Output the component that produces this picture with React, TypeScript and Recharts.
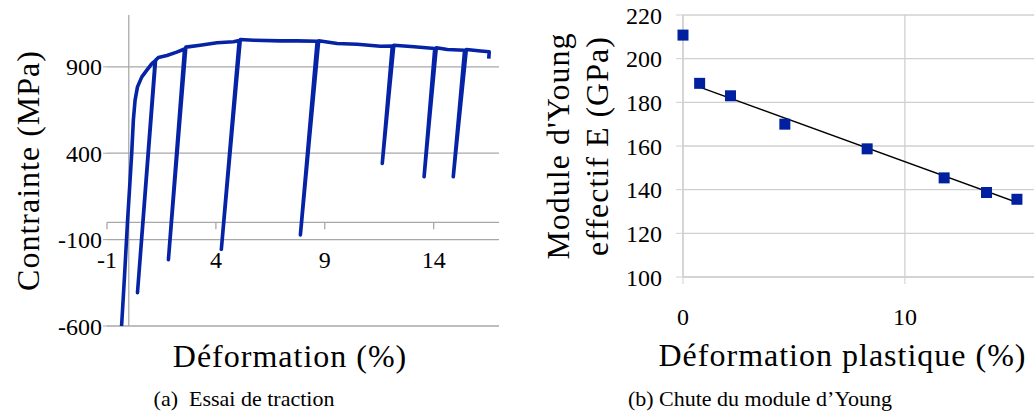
import React from 'react';
import {
  LineChart, Line, XAxis, YAxis, ReferenceLine, ReferenceDot, CartesianGrid,
  ComposedChart, Scatter,
} from 'recharts';

// ---------- (a) Essai de traction ----------
const strain = [
  -0.33, -0.2, -0.06, 0.06, 0.135, 0.21, 0.29, 0.4, 0.6, 0.83, 1.06, 1.21,
  0.4,
  1.23, 1.36, 1.75, 2.2, 2.56,
  1.82,
  2.62, 3.28, 4.05, 4.81, 5.07,
  4.25,
  5.12, 5.73, 6.96, 7.73, 8.65,
  7.88,
  8.72, 9.57, 10.49, 11.56, 12.1,
  11.64,
  12.17, 13.1, 14.05,
  13.56,
  14.12, 14.63, 15.42,
  14.9,
  15.5, 16.16, 16.55, 16.53,
];
const stress = [
  -600, -320, 0, 245, 400, 592, 707, 784, 842, 881, 919, 935,
  -407,
  938, 954, 966, 985, 1003,
  -216,
  1014, 1025, 1039, 1045, 1052,
  -156,
  1058, 1054, 1050, 1050, 1048,
  -73,
  1051, 1035, 1031, 1019, 1020,
  341,
  1025, 1016, 1006,
  264,
  1010, 1000, 996,
  264,
  1000, 992, 987, 948,
];
const leftXTicks = [-1, 4, 9, 14];
const leftYTicks = [-600, -100, 400, 900];

// ---------- (b) Chute du module d'Young ----------
const plasticStrain = [0, 0.75, 2.14, 4.59, 8.3, 11.77, 13.68, 15.05];
const youngModulus = [210.8, 188.7, 183, 170, 158.7, 145.4, 138.7, 135.6];
const trendStrain = [0.75, 15.1];
const trendModulus = [187, 134];
const rightXTicks = [0, 10];
const rightYTicks = [100, 120, 140, 160, 180, 200, 220];

const tractionData = strain.map((x, i) => ({ x, y: stress[i] }));
const youngData = plasticStrain.map((x, i) => ({ x, y: youngModulus[i] }));
const trendData = trendStrain.map((x, i) => ({ x, y: trendModulus[i] }));

const SERIF = "'Liberation Serif', 'Times New Roman', serif";
const BLUE = '#0623a6';
const MARK = '#0020a0';
const GRID_L = '#a8a8a8';
const GRID_R = '#d0d0d0';

const tickStyle = { fill: '#000', fontSize: 24, fontFamily: SERIF };
const titleStyle: React.CSSProperties = { fontFamily: SERIF, fontSize: 32, letterSpacing: 1 };

const VTitle = ({ viewBox, lines, xs }: any) => {
  const cy = viewBox.y + viewBox.height / 2;
  return (
    <g>
      {lines.map((t: string, i: number) => (
        <text key={i} x={xs[i]} y={cy} transform={`rotate(-90 ${xs[i]} ${cy})`}
          textAnchor="middle" dominantBaseline="central" fill="#000" style={titleStyle}>
          {t}
        </text>
      ))}
    </g>
  );
};

const HTitle = ({ viewBox, text, dx, dy }: any) => (
  <text x={viewBox.x + viewBox.width / 2 + dx} y={viewBox.y + dy} textAnchor="middle"
    fill="#000" style={titleStyle}>
    {text}
  </text>
);

const Square = (p: any) => (
  <rect x={p.cx - 5.5} y={p.cy - 5.5} width={11} height={11} fill={MARK} />
);

export default function App() {
  return (
    <div style={{ position: 'absolute', left: 0, top: 0, width: 1034, height: 420, overflow: 'hidden', background: '#fff' }}>
      <div style={{ position: 'absolute', left: 0, top: 0 }}>
        <LineChart width={520} height={380} data={tractionData}
          margin={{ top: 15, right: 21, left: 0, bottom: 0 }}>
          {leftYTicks.map((v) => (
            <ReferenceLine key={'g' + v} y={v} stroke={GRID_L} strokeWidth={1.3} zIndex={-100} />
          ))}
          <XAxis type="number" dataKey="x" domain={[-1, 17]} ticks={leftXTicks}
            tick={false} axisLine={false} tickLine={false} height={54}
            label={{ content: (p: any) => <HTitle {...p} text="Déformation (%)" dx={-13} dy={41} /> }} />
          <YAxis type="number" domain={[-600, 1200]} ticks={leftYTicks} width={107}
            axisLine={false} tickLine={{ stroke: GRID_L }} tickSize={4} tickMargin={1}
            tick={tickStyle}
            label={{ content: (p: any) => <VTitle {...p} lines={['Contrainte (MPa)']} xs={[28]} /> }} />
          <ReferenceLine y={0} stroke={GRID_L} strokeWidth={1.3} zIndex={-100} />
          <ReferenceLine x={0} stroke={GRID_L} strokeWidth={1.3} zIndex={-100} />
          {leftXTicks.map((t) => (
            <ReferenceLine key={'s' + t} segment={[{ x: t, y: 0 }, { x: t, y: -40 }]}
              stroke={GRID_L} strokeWidth={1.3} zIndex={-100} />
          ))}
          {leftXTicks.map((t) => (
            <ReferenceDot key={'d' + t} x={t} y={0} r={0} stroke="none" fill="none"
              label={{ value: String(t), position: 'bottom', offset: 29, fill: '#000', fontSize: 24, fontFamily: SERIF }} />
          ))}
          <Line type="linear" dataKey="y" stroke={BLUE} strokeWidth={3.6} dot={false}
            isAnimationActive={false} strokeLinejoin="round" />
        </LineChart>
      </div>

      <div style={{ position: 'absolute', left: 520, top: 0 }}>
        <ComposedChart width={518} height={380}
          margin={{ top: 15, right: 0, left: 0, bottom: 0 }}>
          <CartesianGrid stroke={GRID_R} strokeWidth={1.3} />
          <XAxis type="number" dataKey="x" domain={[0, 16]} ticks={rightXTicks}
            axisLine={{ stroke: GRID_R, strokeWidth: 1.3 }} tickLine={{ stroke: GRID_R }}
            tickSize={7} tickMargin={24} tick={tickStyle} height={103}
            label={{ content: (p: any) => <HTitle {...p} text="Déformation plastique (%)" dx={-18} dy={89} /> }} />
          <YAxis type="number" domain={[100, 220]} ticks={rightYTicks} width={163}
            axisLine={{ stroke: GRID_R, strokeWidth: 1.3 }} tickLine={{ stroke: GRID_R }}
            tickSize={7} tickMargin={14} tick={tickStyle}
            label={{ content: (p: any) => <VTitle {...p} lines={["Module d'Young", 'effectif E (GPa)']} xs={[38, 77]} /> }} />
          <Scatter data={youngData} dataKey="y" shape={Square} isAnimationActive={false} />
          <Line data={trendData} type="linear" dataKey="y" stroke="#000" strokeWidth={1.3}
            dot={false} isAnimationActive={false} />
        </ComposedChart>
      </div>

      <div style={{ position: 'absolute', left: 0, width: 488, top: 386, textAlign: 'center', fontFamily: SERIF, fontSize: 22, color: '#000' }}>
        (a)&nbsp; Essai de traction
      </div>
      <div style={{ position: 'absolute', left: 520, width: 480, top: 386, textAlign: 'center', fontFamily: SERIF, fontSize: 22, color: '#000' }}>
        (b) Chute du module d’Young
      </div>
    </div>
  );
}
